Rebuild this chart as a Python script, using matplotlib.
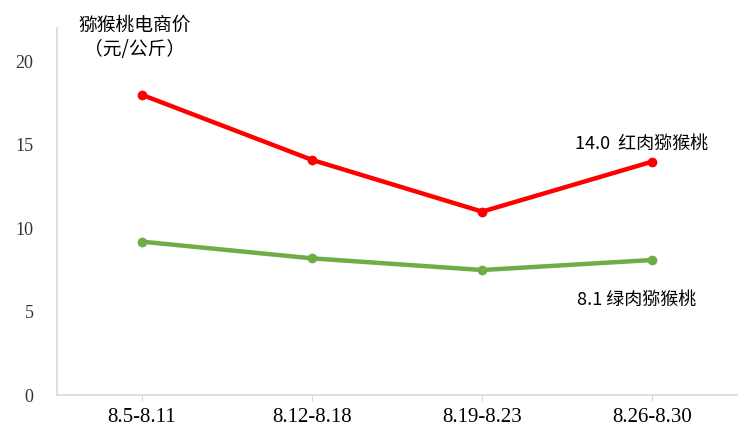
import matplotlib
matplotlib.use("Agg")
import matplotlib.pyplot as plt

plt.rcParams['font.family'] = ['Noto Sans CJK SC', 'DejaVu Sans']

periods = ["8.5-8.11", "8.12-8.18", "8.19-8.23", "8.26-8.30"]
red_flesh = [18.0, 14.1, 11.0, 14.0]
green_flesh = [9.2, 8.2, 7.5, 8.1]
y_ticks = [0, 5, 10, 15, 20]

fig = plt.figure(figsize=(7.5, 4.4), dpi=100)
ax = fig.add_axes([0.076, 0.102, 0.907, 0.834])

x = list(range(len(periods)))
ax.plot(x, red_flesh, color="#ff0000", linewidth=3.2, marker="o", markersize=6)
ax.plot(x, green_flesh, color="#70ad47", linewidth=3.2, marker="o", markersize=6)

ax.set_xlim(-0.5, 3.5)
ax.set_ylim(0, 22)
ax.set_yticks(y_ticks)
ax.set_xticks(x)
ax.set_xticklabels(periods, fontsize=15, family=['Liberation Serif', 'DejaVu Serif'])
ax.set_yticklabels([str(v) for v in y_ticks], fontsize=13, color="#333333",
                   family=['Liberation Serif', 'DejaVu Serif'])
ax.tick_params(axis="y", length=0, pad=17)
ax.tick_params(axis="x", length=4, color="#d9d9d9", pad=5)

for s in ["top", "right"]:
    ax.spines[s].set_visible(False)
for s in ["left", "bottom"]:
    ax.spines[s].set_color("#d9d9d9")
    ax.spines[s].set_linewidth(1.2)

fig.text(0.179, 0.915, "猕猴桃电商价\n（元/公斤）", ha="center", va="center",
         fontsize=13.5, linespacing=1.25)

ax.annotate(f"{red_flesh[-1]:.1f}  红肉猕猴桃", xy=(x[-1], red_flesh[-1]),
            xytext=(-8, 13), textcoords="offset points", ha="center", va="center",
            fontsize=13)
ax.annotate(f"{green_flesh[-1]:.1f} 绿肉猕猴桃", xy=(x[-1], green_flesh[-1]),
            xytext=(-11, -29), textcoords="offset points", ha="center", va="center",
            fontsize=13)

fig.savefig("out.png", dpi=100)
